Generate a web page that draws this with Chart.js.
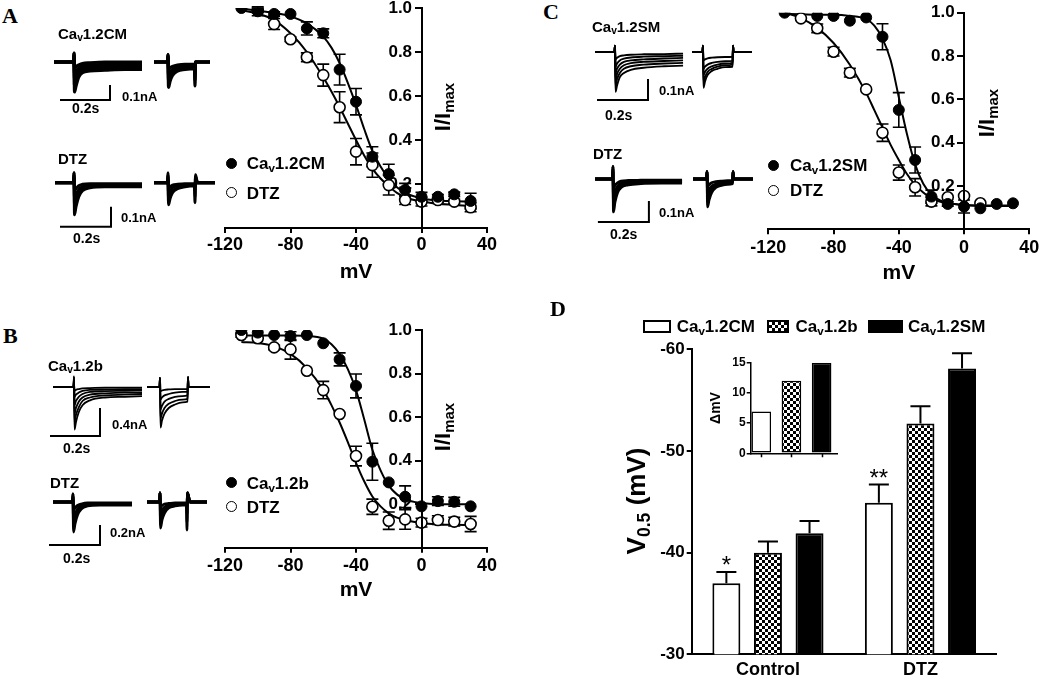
<!DOCTYPE html>
<html><head><meta charset="utf-8"><title>Cav1.2 steady-state inactivation</title>
<script src="https://cdn.jsdelivr.net/npm/chart.js@4.4.1/dist/chart.umd.min.js"></script>
<style>
html,body{margin:0;padding:0;background:#fff;}
#fig{position:relative;width:1039px;height:682px;overflow:hidden;background:#fff;font-family:"Liberation Sans",Arial,Helvetica,sans-serif;color:#000;}
#fig canvas{position:absolute;}
.t{position:absolute;white-space:nowrap;line-height:1;font-weight:bold;transform:translateY(-50%);}
.t sub{font-size:0.68em;vertical-align:-0.28em;line-height:0;}
.L{position:absolute;white-space:nowrap;font-family:"Liberation Serif","Times New Roman",serif;font-weight:bold;line-height:1;transform:translateY(-50%);}
.mk{position:absolute;width:11px;height:11px;box-sizing:border-box;border:1.6px solid #000;border-radius:50%;}
.bx{position:absolute;box-sizing:border-box;border:2px solid #000;}
.ax{position:absolute;background:#000;z-index:5;}
</style></head><body><div id="fig"></div>
<script>
// ================= DATA =================
// y ticks of the I/Imax axes
const IV_TICKS = [0.2,0.4,0.6,0.8,1.0];
// --- Panel A (Cav1.2CM) ---
const A_V_CM  = [-110,-100,-90,-80,-70,-60,-50,-40,-30,-20,-10,0,10,20,30];
const A_I_CM  = [1.0,0.985,0.973,0.973,0.907,0.885,0.72,0.574,0.324,0.245,0.173,0.142,0.142,0.153,0.123];
const A_E_CM  = [0,0.02,0.01,0,0.03,0.02,0.07,0.06,0.045,0.045,0.03,0.02,0.01,0.01,0.035];
const A_V_DTZ = [-100,-90,-80,-70,-60,-50,-40,-30,-20,-10,0,10,20,30];
const A_I_DTZ = [0.99,0.927,0.858,0.776,0.695,0.549,0.347,0.286,0.195,0.127,0.12,0.127,0.12,0.094];
const A_E_DTZ = [0.01,0.025,0.01,0.02,0.05,0.07,0.06,0.055,0.045,0.02,0.02,0.01,0.01,0.02];
// fitted curves at these voltages
const FIT_V     = [-110,-100,-90,-80,-70,-60,-55,-50,-45,-40,-35,-30,-25,-20,-15,-10,0,10,20,30];
const A_FIT_CM  = [0.997,0.988,0.978,0.962,0.93,0.87,0.82,0.75,0.66,0.56,0.45,0.35,0.28,0.225,0.185,0.16,0.135,0.125,0.122,0.12];
const A_FIT_DTZ = [0.99,0.975,0.945,0.885,0.80,0.685,0.62,0.55,0.475,0.40,0.33,0.27,0.225,0.19,0.16,0.14,0.12,0.11,0.105,0.10];
// --- Panel B (Cav1.2b) ---
const B_V_B   = [-110,-100,-90,-80,-70,-60,-50,-40,-30,-20,-10,0,10,20,30];
const B_I_B   = [1.0,0.988,0.977,0.972,0.977,0.939,0.865,0.743,0.395,0.30,0.234,0.19,0.214,0.211,0.19];
const B_E_B   = [0,0,0,0.02,0,0,0.03,0.055,0.085,0,0.05,0,0.02,0.02,0];
const B_V_DTZ = [-110,-100,-90,-80,-70,-60,-50,-40,-30,-20,-10,0,10,20,30];
const B_I_DTZ = [0.977,0.962,0.92,0.911,0.813,0.724,0.614,0.421,0.188,0.124,0.13,0.115,0.127,0.12,0.109];
const B_E_DTZ = [0.01,0,0.01,0.045,0,0.04,0,0.045,0.035,0.04,0.045,0.02,0.02,0.02,0.035];
const B_FIT_B   = [0.975,0.975,0.975,0.975,0.973,0.96,0.935,0.89,0.82,0.724,0.59,0.45,0.355,0.285,0.245,0.222,0.205,0.2,0.2,0.2];
const B_FIT_DTZ = [0.945,0.94,0.925,0.89,0.825,0.725,0.655,0.575,0.485,0.39,0.305,0.235,0.19,0.158,0.138,0.127,0.113,0.107,0.105,0.104];
// --- Panel C (Cav1.2SM) ---
const C_V_SM  = [-110,-90,-80,-70,-60,-50,-40,-30,-20,-10,0,10,20,30];
const C_I_SM  = [1.0,0.985,0.985,0.963,0.978,0.889,0.551,0.32,0.151,0.117,0.105,0.097,0.117,0.12];
const C_E_SM  = [0,0,0,0,0,0.06,0.08,0.06,0.03,0.01,0.03,0,0,0];
const C_V_DTZ = [-100,-90,-80,-70,-60,-50,-40,-30,-20,-10,0,10];
const C_I_DTZ = [0.974,0.928,0.82,0.723,0.646,0.446,0.262,0.194,0.128,0.148,0.154,0.12];
const C_E_DTZ = [0,0.02,0.02,0.02,0,0.04,0.035,0.04,0.02,0,0,0];
const C_FIT_SM  = [0.995,0.993,0.99,0.99,0.985,0.97,0.94,0.88,0.78,0.61,0.44,0.30,0.21,0.16,0.135,0.122,0.112,0.11,0.11,0.11];
const C_FIT_DTZ = [1.0,0.975,0.93,0.86,0.76,0.63,0.55,0.47,0.39,0.32,0.255,0.205,0.17,0.143,0.128,0.12,0.112,0.108,0.107,0.107];
// --- Panel D (V0.5) ---
const D_GROUPS = ['Control','DTZ'];
const D_CM = [-37.0,-44.9], D_CM_ERR = [1.1,1.8], D_CM_SIG = ['*','**'];
const D_B  = [-40.0,-52.7], D_B_ERR  = [1.1,1.7];
const D_SM = [-41.9,-58.1], D_SM_ERR = [1.2,1.5];
const INSET_LABELS = ['Cav1.2CM','Cav1.2b','Cav1.2SM'];
const INSET_DMV = [6.9,12.0,15.0];
// --- current traces (time s, current nA) ---
const TA1_TL = [0.016,0.094,0.096,0.098,0.104,0.115,0.13,0.16,0.22,0.30,0.368];
const TA1_L = [[0,0,0.06,-0.20,-0.16,-0.10,-0.07,-0.06,-0.055,-0.05,-0.05],[0,0,0.06,-0.16,-0.12,-0.08,-0.055,-0.045,-0.04,-0.04,-0.04],[0,0,0.05,-0.12,-0.09,-0.06,-0.04,-0.03,-0.028,-0.025,-0.025],[0,0,0.04,-0.08,-0.06,-0.04,-0.025,-0.02,-0.015,-0.015,-0.015],[0,0,0.03,-0.04,-0.03,-0.02,-0.01,-0.005,0,0,0]];
const TA1_TR = [0.416,0.470,0.472,0.474,0.48,0.49,0.51,0.54,0.578,0.580,0.582,0.59,0.64];
const TA1_R = [[0,0,0.05,-0.17,-0.13,-0.09,-0.06,-0.05,-0.045,-0.16,0,0,0],[0,0,0.05,-0.13,-0.10,-0.07,-0.05,-0.04,-0.035,-0.12,0,0,0],[0,0,0.04,-0.09,-0.07,-0.05,-0.035,-0.03,-0.025,-0.08,0,0,0],[0,0,0.03,-0.05,-0.04,-0.03,-0.02,-0.015,-0.015,-0.04,0,0,0]];
const SB_A1_T = [0.04,0.24,0.24], SB_A1_I = [-0.2533,-0.2533,-0.1533];

const TA2_TL = [0.02,0.094,0.096,0.098,0.104,0.115,0.13,0.16,0.22,0.30,0.368];
const TA2_L = [[0,0,0.05,-0.16,-0.12,-0.07,-0.04,-0.025,-0.02,-0.02,-0.02],[0,0,0.05,-0.12,-0.09,-0.05,-0.03,-0.02,-0.015,-0.015,-0.015],[0,0,0.04,-0.08,-0.06,-0.035,-0.02,-0.012,-0.01,-0.01,-0.01],[0,0,0.03,-0.04,-0.03,-0.015,-0.008,-0.005,-0.005,-0.005,-0.005]];
const TA2_TR = [0.416,0.470,0.472,0.474,0.48,0.49,0.51,0.54,0.578,0.580,0.582,0.59,0.66];
const TA2_R = [[0,0,0.05,-0.11,-0.08,-0.05,-0.03,-0.02,-0.015,-0.10,0.04,0,0],[0,0,0.04,-0.08,-0.06,-0.04,-0.025,-0.015,-0.012,-0.07,0.03,0,0],[0,0,0.03,-0.05,-0.04,-0.025,-0.015,-0.01,-0.008,-0.04,0.02,0,0],[0,0,0.02,-0.025,-0.02,-0.012,-0.008,-0.005,-0.005,-0.02,0.01,0,0]];
const SB_A2_T = [0.04,0.244,0.244], SB_A2_I = [-0.22,-0.22,-0.12];

const TB1_TL = [0.032,0.114,0.116,0.118,0.124,0.135,0.15,0.18,0.24,0.32,0.388];
const TB1_L = [[0,0,0.15,-0.61,-0.50,-0.36,-0.26,-0.19,-0.15,-0.14,-0.13],[0,0,0.15,-0.50,-0.40,-0.29,-0.20,-0.15,-0.12,-0.11,-0.10],[0,0,0.12,-0.38,-0.30,-0.21,-0.15,-0.11,-0.09,-0.08,-0.08],[0,0,0.10,-0.26,-0.20,-0.14,-0.10,-0.07,-0.06,-0.055,-0.05],[0,0,0.08,-0.14,-0.11,-0.08,-0.055,-0.04,-0.035,-0.03,-0.03],[0,0,0.05,-0.05,-0.04,-0.03,-0.02,-0.015,-0.01,-0.01,-0.01]];
const TB1_TR = [0.408,0.458,0.460,0.462,0.468,0.478,0.495,0.52,0.55,0.570,0.572,0.574,0.58,0.66];
const TB1_R = [[0,0,0.13,-0.58,-0.48,-0.38,-0.30,-0.25,-0.22,-0.21,0.14,0,0,0],[0,0,0.13,-0.45,-0.38,-0.30,-0.24,-0.20,-0.18,-0.17,0.14,0,0,0],[0,0,0.13,-0.32,-0.27,-0.21,-0.17,-0.14,-0.13,-0.12,0.14,0,0,0],[0,0,0.13,-0.18,-0.15,-0.12,-0.10,-0.08,-0.07,-0.07,0.14,0,0,0],[0,0,0.13,-0.06,-0.05,-0.04,-0.035,-0.03,-0.03,-0.03,0.14,0,0,0]];
const SB_B1_T = [0.02,0.22,0.22], SB_B1_I = [-0.7,-0.7,-0.3];

const TB2_TL = [0.032,0.110,0.112,0.114,0.12,0.13,0.145,0.17,0.22,0.29,0.348];
const TB2_L = [[0,0,0.08,-0.30,-0.22,-0.13,-0.07,-0.04,-0.03,-0.03,-0.03],[0,0,0.08,-0.23,-0.17,-0.10,-0.05,-0.03,-0.02,-0.02,-0.02],[0,0,0.06,-0.16,-0.12,-0.07,-0.035,-0.02,-0.015,-0.015,-0.015],[0,0,0.05,-0.08,-0.06,-0.035,-0.02,-0.01,-0.01,-0.01,-0.01]];
const TB2_TR = [0.408,0.458,0.460,0.462,0.468,0.478,0.495,0.52,0.55,0.566,0.568,0.570,0.58,0.648];
const TB2_R = [[0,0,0.09,-0.26,-0.18,-0.11,-0.06,-0.04,-0.03,-0.03,-0.28,0.09,0,0],[0,0,0.09,-0.19,-0.13,-0.08,-0.045,-0.03,-0.02,-0.02,-0.2,0.09,0,0],[0,0,0.09,-0.12,-0.08,-0.05,-0.03,-0.02,-0.015,-0.015,-0.12,0.09,0,0],[0,0,0.09,-0.05,-0.035,-0.02,-0.015,-0.01,-0.01,-0.01,-0.05,0.09,0,0]];
const SB_B2_T = [0.016,0.22,0.22], SB_B2_I = [-0.43,-0.43,-0.23];

const TC1_TL = [0.02,0.096,0.098,0.100,0.106,0.117,0.133,0.16,0.21,0.29,0.365];
const TC1_L = [[0,0,0.03,-0.19,-0.16,-0.12,-0.10,-0.085,-0.075,-0.068,-0.065],[0,0,0.03,-0.16,-0.13,-0.10,-0.08,-0.068,-0.06,-0.055,-0.052],[0,0,0.03,-0.13,-0.105,-0.08,-0.063,-0.053,-0.047,-0.043,-0.04],[0,0,0.03,-0.10,-0.08,-0.06,-0.047,-0.04,-0.035,-0.031,-0.028],[0,0,0.03,-0.07,-0.055,-0.04,-0.032,-0.026,-0.022,-0.02,-0.018],[0,0,0.03,-0.035,-0.028,-0.02,-0.016,-0.013,-0.011,-0.01,-0.008]];
const TC1_TR = [0.4,0.441,0.443,0.445,0.451,0.461,0.478,0.50,0.53,0.559,0.561,0.563,0.57,0.635];
const TC1_R = [[0,0,0.03,-0.17,-0.14,-0.11,-0.09,-0.08,-0.072,-0.07,0.03,0,0,0],[0,0,0.03,-0.14,-0.12,-0.095,-0.08,-0.07,-0.063,-0.06,0.03,0,0,0],[0,0,0.03,-0.11,-0.095,-0.08,-0.068,-0.06,-0.055,-0.052,0.03,0,0,0],[0,0,0.03,-0.08,-0.07,-0.06,-0.052,-0.047,-0.044,-0.042,0.03,0,0,0],[0,0,0.03,-0.04,-0.035,-0.03,-0.027,-0.025,-0.024,-0.023,0.03,0,0,0]];
const SB_C1_T = [0.0275,0.2275,0.2275], SB_C1_I = [-0.2286,-0.2286,-0.1286];

const TC2_TL = [0.02,0.088,0.090,0.092,0.098,0.108,0.122,0.15,0.2,0.28,0.361];
const TC2_L = [[0,0,0.06,-0.157,-0.11,-0.065,-0.04,-0.028,-0.022,-0.02,-0.02],[0,0,0.06,-0.12,-0.085,-0.05,-0.03,-0.02,-0.016,-0.015,-0.015],[0,0,0.05,-0.085,-0.06,-0.035,-0.02,-0.014,-0.011,-0.01,-0.01],[0,0,0.04,-0.045,-0.03,-0.018,-0.01,-0.007,-0.006,-0.005,-0.005]];
const TC2_TR = [0.404,0.457,0.459,0.461,0.467,0.477,0.494,0.515,0.54,0.559,0.561,0.563,0.57,0.639];
const TC2_R = [[0,0,0.035,-0.133,-0.10,-0.065,-0.04,-0.03,-0.025,-0.022,0.035,0,0,0],[0,0,0.035,-0.10,-0.075,-0.05,-0.032,-0.024,-0.02,-0.018,0.035,0,0,0],[0,0,0.035,-0.07,-0.052,-0.035,-0.024,-0.018,-0.015,-0.013,0.035,0,0,0],[0,0,0.035,-0.035,-0.027,-0.018,-0.013,-0.01,-0.008,-0.007,0.035,0,0,0]];
const SB_C2_T = [0.031,0.231,0.231], SB_C2_I = [-0.2048,-0.2048,-0.1048];

// ================= HELPERS =================
const FONT = '"Liberation Sans", Arial, Helvetica, sans-serif';
Chart.defaults.font.family = FONT;
Chart.defaults.color = '#000';
const fig = document.getElementById('fig');
function canvas(l,t,w,h){const c=document.createElement('canvas');c.width=w;c.height=h;c.style.left=l+'px';c.style.top=t+'px';c.style.width=w+'px';c.style.height=h+'px';c.dataset.l=l;c.dataset.t=t;fig.appendChild(c);return c;}
function text(html,x,y,size,cls){const d=document.createElement('div');d.className=cls||'t';d.innerHTML=html;d.style.left=x+'px';d.style.top=y+'px';d.style.fontSize=size+'px';fig.appendChild(d);return d;}
function rtext(html,cx,cy,size){const d=text(html,cx,cy,size);d.style.transform='translate(-50%,-50%) rotate(-90deg)';return d;}
function marker(cx,cy,open){const d=document.createElement('div');d.className='mk';d.style.left=(cx-5.5)+'px';d.style.top=(cy-5.5)+'px';d.style.background=open?'#fff':'#000';fig.appendChild(d);}
function box(l,t,w,h,bg){const d=document.createElement('div');d.className='bx';d.style.left=l+'px';d.style.top=t+'px';d.style.width=w+'px';d.style.height=h+'px';d.style.background=bg;fig.appendChild(d);}
function rule(l,t,w,h){const d=document.createElement('div');d.className='ax';d.style.left=l+'px';d.style.top=t+'px';d.style.width=w+'px';d.style.height=h+'px';fig.appendChild(d);}
function checker(){const c=document.createElement('canvas');c.width=6;c.height=6;const g=c.getContext('2d');g.fillStyle='#fff';g.fillRect(0,0,6,6);g.fillStyle='#000';g.fillRect(0,0,3,3);g.fillRect(3,3,3,3);return g.createPattern(c,'repeat');}
const noPad = s => { s.paddingTop=0; s.paddingBottom=0; s.paddingLeft=0; s.paddingRight=0; };

// error bars for I/Imax points (drawn under the symbols)
const ivErr = {id:'ivErr', beforeDatasetsDraw(chart){
  const ctx=chart.ctx, xs=chart.scales.x, ys=chart.scales.y;
  chart.data.datasets.forEach(ds=>{ if(!ds.errors) return;
    ds.data.forEach((p,i)=>{ const e=ds.errors[i]; if(!e) return;
      const x=xs.getPixelForValue(p.x), y1=ys.getPixelForValue(p.y+e), y2=ys.getPixelForValue(p.y-e);
      ctx.save(); ctx.strokeStyle='#000'; ctx.lineWidth=1.6; ctx.beginPath();
      ctx.moveTo(x,y1); ctx.lineTo(x,y2);
      ctx.moveTo(x-6,y1); ctx.lineTo(x+6,y1);
      ctx.moveTo(x-6,y2); ctx.lineTo(x+6,y2);
      ctx.stroke(); ctx.restore();
    });
  });
}};

function ivChart(cv, pad, xAxisH, tickPad, titlePad, sets){
  const ds=[];
  sets.forEach(s=>ds.push({type:'line',data:FIT_V.map((v,i)=>({x:v,y:s.fit[i]})),borderColor:'#000',borderWidth:2,pointRadius:0,cubicInterpolationMode:'monotone',fill:false,order:3}));
  sets.forEach(s=>ds.push({type:'scatter',data:s.v.map((v,i)=>({x:v,y:s.i[i]})),errors:s.e,pointRadius:5.5,pointHoverRadius:5.5,
    pointBackgroundColor:s.open?'#fff':'#000',pointBorderColor:'#000',pointBorderWidth:s.open?1.6:1,order:s.open?2:1}));
  const chart = new Chart(cv,{type:'scatter',data:{datasets:ds},options:{responsive:false,animation:false,events:[],
    layout:{padding:{left:pad[0],top:pad[1],right:pad[2],bottom:0}},
    plugins:{legend:{display:false},tooltip:{enabled:false}},
    scales:{
      x:{type:'linear',min:-120,max:40,ticks:{stepSize:40,font:{size:18,weight:'bold'},color:'#000',padding:tickPad},
         grid:{display:true,drawOnChartArea:false,drawTicks:true,tickLength:5,lineWidth:2,color:'#000'},
         border:{display:true,width:2,color:'#000'},
         title:{display:true,text:'mV',font:{size:21,weight:'bold'},color:'#000',padding:{top:0,bottom:titlePad}},
         afterFit:s=>{s.height=xAxisH;noPad(s);}},
      // labels sit right-aligned on the 0 mV line; two trailing spaces leave room for the tick marks
      y:{type:'linear',min:0,max:1,position:{x:0},
         ticks:{stepSize:0.2,font:{size:17,weight:'bold'},color:'#000',callback:v=>Math.abs(v)<1e-9?'':v.toFixed(1)+'  '},
         grid:{display:false},border:{display:false},afterFit:s=>{noPad(s);}}
    }},plugins:[ivErr]});
  // I/Imax axis line and tick marks at 0 mV, placed from the chart's own scales
  const L=+cv.dataset.l, T=+cv.dataset.t, xs=chart.scales.x, ys=chart.scales.y;
  const x0=L+xs.getPixelForValue(0), yTop=T+ys.getPixelForValue(ys.max), yBot=T+ys.getPixelForValue(ys.min);
  rule(Math.round(x0-1), Math.round(yTop-1), 2, Math.round(yBot-yTop+2));
  IV_TICKS.forEach(v=>{ const y=T+ys.getPixelForValue(v); rule(Math.round(x0-7), Math.round(y-1), 7, 2); });
  return chart;
}

function traceChart(cv, xmax, ymin, ymax, groups, sbT, sbI, lw){
  const ds=[];
  groups.forEach(g=>g.tr.forEach(tr=>ds.push({data:g.t.map((t,i)=>({x:t,y:tr[i]})),borderColor:'#000',borderWidth:lw,pointRadius:0,cubicInterpolationMode:'monotone',fill:false})));
  ds.push({data:sbT.map((t,i)=>({x:t,y:sbI[i]})),borderColor:'#000',borderWidth:2,pointRadius:0,tension:0,fill:false});
  return new Chart(cv,{type:'line',data:{datasets:ds},options:{responsive:false,animation:false,events:[],
    layout:{padding:0},plugins:{legend:{display:false},tooltip:{enabled:false}},
    scales:{x:{type:'linear',display:false,min:0,max:xmax},y:{type:'linear',display:false,min:ymin,max:ymax}}}});
}

// ================= PANEL A =================
ivChart(canvas(200,0,310,290),[25,8,23],62,1.2,5.4,[
  {v:A_V_CM,i:A_I_CM,e:A_E_CM,fit:A_FIT_CM,open:false},
  {v:A_V_DTZ,i:A_I_DTZ,e:A_E_DTZ,fit:A_FIT_DTZ,open:true}]);
traceChart(canvas(50,40,170,72),0.68,-0.3333,0.1467,[{t:TA1_TL,tr:TA1_L},{t:TA1_TR,tr:TA1_R}],SB_A1_T,SB_A1_I,3.2);
traceChart(canvas(50,165,170,70),0.68,-0.2615,0.0885,[{t:TA2_TL,tr:TA2_L},{t:TA2_TR,tr:TA2_R}],SB_A2_T,SB_A2_I,3);

// ================= PANEL B =================
ivChart(canvas(200,310,310,300),[25,20,23],62.3,2.5,7.4,[
  {v:B_V_B,i:B_I_B,e:B_E_B,fit:B_FIT_B,open:false},
  {v:B_V_DTZ,i:B_I_DTZ,e:B_E_DTZ,fit:B_FIT_DTZ,open:true}]);
traceChart(canvas(45,370,175,72),0.7,-0.786,0.243,[{t:TB1_TL,tr:TB1_L},{t:TB1_TR,tr:TB1_R}],SB_B1_T,SB_B1_I,1.8);
traceChart(canvas(45,490,175,65),0.7,-0.53,0.12,[{t:TB2_TL,tr:TB2_L},{t:TB2_TR,tr:TB2_R}],SB_B2_T,SB_B2_I,2.8);

// ================= PANEL C =================
ivChart(canvas(740,0,310,290),[28.3,12.7,20.7],60.7,2.9,4.4,[
  {v:C_V_SM,i:C_I_SM,e:C_E_SM,fit:C_FIT_SM,open:false},
  {v:C_V_DTZ,i:C_I_DTZ,e:C_E_DTZ,fit:C_FIT_DTZ,open:true}]);
traceChart(canvas(590,40,170,70),0.6667,-0.2762,0.0571,[{t:TC1_TL,tr:TC1_L},{t:TC1_TR,tr:TC1_R}],SB_C1_T,SB_C1_I,1.9);
traceChart(canvas(590,160,170,70),0.6667,-0.2429,0.0905,[{t:TC2_TL,tr:TC2_L},{t:TC2_TR,tr:TC2_R}],SB_C2_T,SB_C2_I,2.8);

// ================= PANEL D =================
const pat = checker();
const barErr = {id:'barErr', afterDatasetsDraw(chart){
  const ctx=chart.ctx, ys=chart.scales.y;
  chart.data.datasets.forEach((ds,di)=>{ if(!ds.errors) return;
    chart.getDatasetMeta(di).data.forEach((bar,i)=>{
      const v=ds.data[i], y0=ys.getPixelForValue(v), y1=ys.getPixelForValue(v-ds.errors[i]);
      ctx.save(); ctx.strokeStyle='#000'; ctx.lineWidth=2; ctx.beginPath();
      ctx.moveTo(bar.x,y0); ctx.lineTo(bar.x,y1); ctx.moveTo(bar.x-10,y1); ctx.lineTo(bar.x+10,y1); ctx.stroke();
      if(ds.sig && ds.sig[i]){ ctx.fillStyle='#000'; ctx.font='24px '+FONT; ctx.textAlign='center'; ctx.textBaseline='alphabetic'; ctx.fillText(ds.sig[i],bar.x,y1+1); }
      ctx.restore();
    });
  });
}};
// tick marks under the inset bars (follow the inset x scale)
const insetTicks = {id:'insetTicks', afterDraw(chart){
  const ctx=chart.ctx, xs=chart.scales.x, y=chart.chartArea.bottom;
  ctx.save(); ctx.strokeStyle='#000'; ctx.lineWidth=1.5; ctx.beginPath();
  INSET_DMV.forEach((v,i)=>{ const x=Math.round(xs.getPixelForValue(i+1))+0.5; ctx.moveTo(x,y); ctx.lineTo(x,y+4); });
  ctx.stroke(); ctx.restore();
}};
const barCommon = {borderColor:'#000',borderWidth:2,borderSkipped:false,categoryPercentage:0.818,barPercentage:0.673};
new Chart(canvas(540,290,499,392),{type:'bar',data:{labels:D_GROUPS,datasets:[
  Object.assign({label:'Cav1.2CM',data:D_CM,errors:D_CM_ERR,sig:D_CM_SIG,backgroundColor:'#fff'},barCommon),
  Object.assign({label:'Cav1.2b',data:D_B,errors:D_B_ERR,backgroundColor:pat},barCommon),
  Object.assign({label:'Cav1.2SM',data:D_SM,errors:D_SM_ERR,backgroundColor:'#000'},barCommon)]},
  options:{responsive:false,animation:false,events:[],layout:{padding:{left:0,top:59.3,right:42.3,bottom:0}},
    plugins:{legend:{display:false},tooltip:{enabled:false}},
    scales:{
      x:{grid:{display:false,drawTicks:false},border:{display:true,width:2,color:'#000'},
         ticks:{font:{size:18,weight:'bold'},color:'#000',padding:4.9},afterFit:s=>{s.height=27.7;noPad(s);}},
      y:{min:-60,max:-30,reverse:true,ticks:{stepSize:10,font:{size:17,weight:'bold'},color:'#000',padding:2},
         grid:{display:true,drawOnChartArea:false,drawTicks:true,tickLength:5,lineWidth:2,color:'#000'},
         border:{display:true,width:2,color:'#000'},afterFit:s=>{s.width=151.7;noPad(s);}}
    }},plugins:[barErr]});

// inset: shift of V0.5 (ΔmV)
new Chart(canvas(700,350,145,115),{type:'bar',data:{datasets:[{label:'ΔmV',
    data:INSET_DMV.map((v,i)=>({x:i+1,y:v})),backgroundColor:['#fff',pat,'#000'],borderColor:'#000',borderWidth:1.5,borderSkipped:false,categoryPercentage:1,barPercentage:0.65}]},
  options:{responsive:false,animation:false,events:[],layout:{padding:{left:0,top:12.7,right:7.7,bottom:0}},
    plugins:{legend:{display:false},tooltip:{enabled:false}},
    scales:{
      x:{type:'linear',min:0.65,max:3.52,offset:false,ticks:{stepSize:1,includeBounds:false,callback:()=>''},
         grid:{display:false,drawTicks:false},
         border:{display:true,width:1.5,color:'#000'},afterFit:s=>{s.height=11.7;noPad(s);}},
      y:{min:0,max:15,ticks:{stepSize:5,font:{size:12,weight:'bold'},color:'#000',padding:1},
         grid:{display:true,drawOnChartArea:false,drawTicks:true,tickLength:4,lineWidth:1.5,color:'#000'},
         border:{display:true,width:1.5,color:'#000'},
         title:{display:true,text:'ΔmV',font:{size:14,weight:'bold'},color:'#000',padding:{top:7.6,bottom:0}},
         afterFit:s=>{s.width=50.7;noPad(s);}}
    }},plugins:[insetTicks]});

// ================= TEXT =================
text('A',2,15.5,22,'L'); text('B',3,335.5,22,'L'); text('C',543,11.5,22,'L'); text('D',550,308.5,22,'L');
// trace labels
text('Ca<sub>v</sub>1.2CM',58,33,15); text('0.1nA',122,96,13); text('0.2s',72,108,14);
text('DTZ',58,158,15); text('0.1nA',121,217,13); text('0.2s',73,238,14);
text('Ca<sub>v</sub>1.2b',48,365,15); text('0.4nA',112,424,13); text('0.2s',63,448,14);
text('DTZ',50,482,15); text('0.2nA',110,532,13); text('0.2s',63,558,14);
text('Ca<sub>v</sub>1.2SM',592,26,15); text('0.1nA',659,90,13); text('0.2s',605,115,14);
text('DTZ',593,153,15); text('0.1nA',659,212,13); text('0.2s',610,234,14);
// legends A-C
marker(231.7,163.3,false); text('Ca<sub>v</sub>1.2CM',246.7,163.3,17);
marker(231.7,192.7,true);  text('DTZ',246.7,192.7,17);
marker(231.7,482.7,false); text('Ca<sub>v</sub>1.2b',246.7,482.7,17);
marker(231.7,506.7,true);  text('DTZ',246.7,506.7,17);
marker(773.3,165,false);   text('Ca<sub>v</sub>1.2SM',790,165,17);
marker(773.3,190,true);    text('DTZ',790,190,17);
// y titles
rtext('I/I<sub>max</sub>',443,107,22); rtext('I/I<sub>max</sub>',443,427,22); rtext('I/I<sub>max</sub>',986.7,113,22);
rtext('V<sub>0.5</sub> (mV)',636,501,26);
// legend D
box(643,320,27.7,13,'#fff'); text('Ca<sub>v</sub>1.2CM',676.7,326,17);
box(767,320,22,13,'repeating-conic-gradient(#000 0% 25%, #fff 0% 50%) 0 0/6px 6px'); text('Ca<sub>v</sub>1.2b',795.5,326,17);
box(868,320,35,13,'#000'); text('Ca<sub>v</sub>1.2SM',908,326,17);
</script></body></html>
